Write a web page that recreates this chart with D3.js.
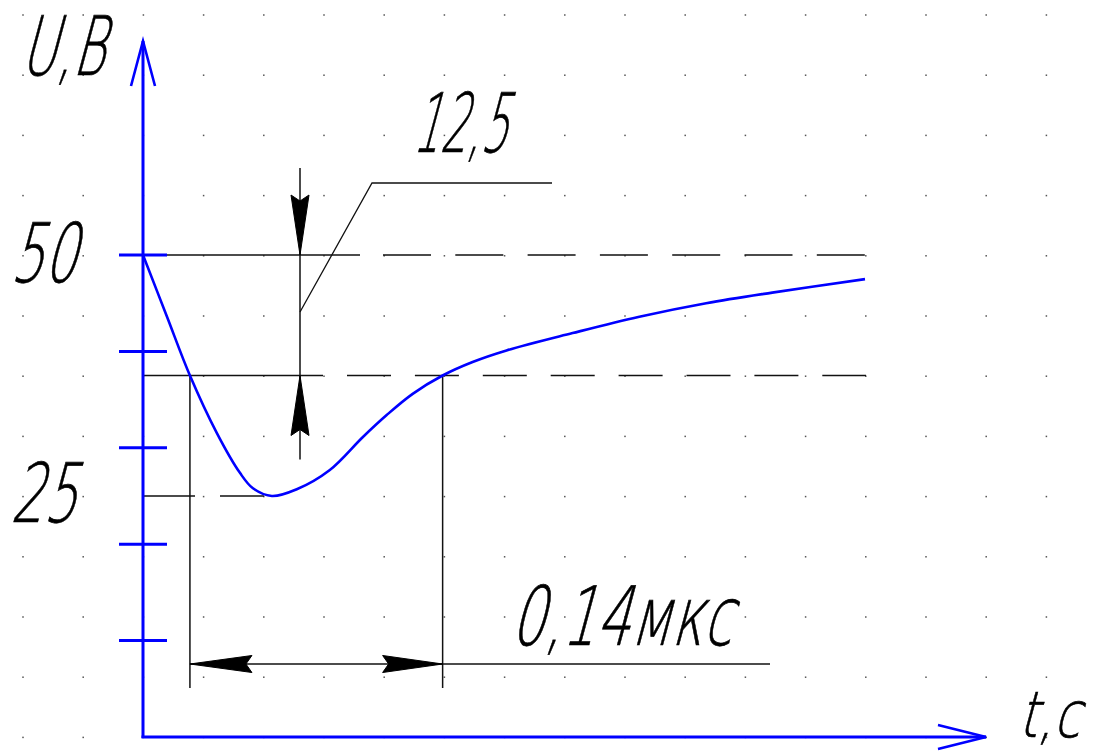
<!DOCTYPE html>
<html>
<head>
<meta charset="utf-8">
<script src="https://cdn.jsdelivr.net/npm/d3@7"></script>
<style>
  html, body { margin: 0; padding: 0; background: #fff; }
  svg { display: block; }
  .gost { font-family: "DejaVu Sans", sans-serif; font-weight: 200; fill: #000; stroke: #000; stroke-width: 0.7; }
</style>
</head>
<body>
<svg id="chart" width="1099" height="754"></svg>
<script>
// Transient response: voltage U (V) versus time t (microseconds)
const curveT = [0, 0.0133, 0.026, 0.041, 0.0537, 0.0609, 0.0714, 0.0852, 0.1035, 0.1217, 0.135, 0.1494, 0.166, 0.1826, 0.2014, 0.238, 0.275, 0.312, 0.3486, 0.4];
const curveU = [50, 43.6, 37.5, 31.5, 27.4, 25.8, 25.0, 25.7, 27.7, 31.1, 33.4, 35.6, 37.5, 38.9, 40.1, 41.9, 43.6, 45.0, 46.1, 47.5];

// Axis ticks and labelled values
const yTicks = [10, 20, 30, 40, 50];
const yLabels = [50, 25];

// Reference levels: steady value, threshold, minimum
const levelTop = 50;
const levelThreshold = 37.5;
const levelMin = 25;

// Time interval spent below the threshold
const tCross = [0.026, 0.166];

const labelDrop = "12,5";       // levelTop - levelThreshold
const labelInterval = "0,14мкс"; // tCross[1] - tCross[0]
const labelU = "U,B";
const labelT = "t,c";

const svg = d3.select("#chart");
const blue = "#0000ff";

const x = d3.scaleLinear().domain([0, 0.4]).range([143, 865]);
const y = d3.scaleLinear().domain([0, 50]).range([737, 255]);

// Dot grid of the drawing sheet
const gridStep = 60.2;
const dots = [];
for (let i = 0; 23 + i * gridStep < 1099; i++) {
  for (let j = 0; 15 + j * gridStep < 745; j++) {
    dots.push([23 + i * gridStep, 15 + j * gridStep]);
  }
}
svg.append("g").selectAll("rect").data(dots).join("rect")
  .attr("x", d => d[0] - 0.75).attr("y", d => d[1] - 0.75)
  .attr("width", 1.5).attr("height", 1.5).attr("fill", "#555");

const x0 = x(0), yBase = y(0);
const lines = svg.append("g").attr("stroke", "#111").attr("fill", "none");

// Steady level: extension line, then dashes
lines.append("line")
  .attr("x1", x0 - 24).attr("x2", x0 + 217)
  .attr("y1", y(levelTop)).attr("y2", y(levelTop)).attr("stroke-width", 1.4);
lines.append("line")
  .attr("x1", x0 + 240).attr("x2", x(0.4) + 2)
  .attr("y1", y(levelTop)).attr("y2", y(levelTop))
  .attr("stroke-width", 1.4).attr("stroke-dasharray", "48 24.3");

// Threshold level
lines.append("line")
  .attr("x1", x0).attr("x2", x0 + 180)
  .attr("y1", y(levelThreshold)).attr("y2", y(levelThreshold)).attr("stroke-width", 1.4);
lines.append("line")
  .attr("x1", x0 + 204).attr("x2", x(0.4) + 1)
  .attr("y1", y(levelThreshold)).attr("y2", y(levelThreshold))
  .attr("stroke-width", 1.4).attr("stroke-dasharray", "44 23.9");

// Minimum level extension
lines.append("line")
  .attr("x1", x0).attr("x2", x(0.0714) - 8)
  .attr("y1", y(levelMin)).attr("y2", y(levelMin))
  .attr("stroke-width", 1.4).attr("stroke-dasharray", "52 25");

// Extension lines at the threshold crossings
const dimY = 664;
tCross.forEach(t => {
  lines.append("line")
    .attr("x1", x(t)).attr("x2", x(t))
    .attr("y1", y(levelThreshold)).attr("y2", dimY + 24).attr("stroke-width", 1.5);
});

// Horizontal dimension line with arrows
lines.append("line")
  .attr("x1", x(tCross[0])).attr("x2", 770)
  .attr("y1", dimY).attr("y2", dimY).attr("stroke-width", 1.5);

function arrow(tipX, tipY, dx, dy, len, half, notch) {
  // dx,dy: unit direction from tip toward the tail
  const px = -dy, py = dx;
  const bx = tipX + dx * len, by = tipY + dy * len;
  const nx = tipX + dx * (len - notch), ny = tipY + dy * (len - notch);
  return `M${tipX},${tipY}L${bx + px * half},${by + py * half}L${nx},${ny}L${bx - px * half},${by - py * half}Z`;
}
const arrows = svg.append("g").attr("fill", "#000").attr("stroke", "#000").attr("stroke-width", 1);
arrows.append("path").attr("d", arrow(x(tCross[0]), dimY, 1, 0, 62, 8.5, 6));
arrows.append("path").attr("d", arrow(x(tCross[1]), dimY, -1, 0, 60, 8.5, 6));

// Vertical dimension for the voltage drop
const dimX = 300;
lines.append("line")
  .attr("x1", dimX).attr("x2", dimX)
  .attr("y1", y(levelTop) - 87).attr("y2", y(levelThreshold) + 84).attr("stroke-width", 1.5);
arrows.append("path").attr("d", arrow(dimX, y(levelTop), 0, -1, 60, 9, 6));
arrows.append("path").attr("d", arrow(dimX, y(levelThreshold), 0, 1, 60, 9, 6));

// Leader to the drop label
lines.append("path")
  .attr("d", `M${dimX},${y(levelTop) + 57}L372,183L552,183`)
  .attr("stroke-width", 1.3);

// Axes
const axes = svg.append("g").attr("stroke", blue).attr("fill", "none")
  .attr("stroke-width", 3).attr("stroke-linecap", "butt");
axes.append("line").attr("x1", x0).attr("x2", x0).attr("y1", yBase + 1).attr("y2", 41);
axes.append("path").attr("d", `M${x0 - 12},86L${x0},41L${x0 + 12},86`).attr("stroke-width", 2.6);
axes.append("line").attr("x1", x0 - 1.5).attr("x2", 986).attr("y1", yBase).attr("y2", yBase);
axes.append("path").attr("d", `M938,${yBase - 12}L986,${yBase}L938,${yBase + 12}`).attr("stroke-width", 2.6);

axes.selectAll("line.tick").data(yTicks).join("line").attr("class", "tick")
  .attr("x1", x0 - 24).attr("x2", x0 + 24)
  .attr("y1", d => y(d)).attr("y2", d => y(d));

// Response curve
const line = d3.line()
  .x((d, i) => x(curveT[i]))
  .y(d => y(d))
  .curve(d3.curveCatmullRom.alpha(0.5));
svg.append("path")
  .datum(curveU)
  .attr("d", line)
  .attr("fill", "none")
  .attr("stroke", blue)
  .attr("stroke-width", 2.6);

// Lettering in slanted drafting style: narrowed by a horizontal scale
function gostText(str, bx, by, size, len) {
  const g = svg.append("g");
  const t = g.append("text")
    .attr("class", "gost")
    .attr("font-size", size)
    .text(str);
  const natural = t.node().getComputedTextLength();
  g.attr("transform", `translate(${bx},${by}) skewX(-15) scale(${len / natural},1)`);
}
gostText(labelU, 20, 75, 82, 84);
gostText(labelDrop, 412, 152, 82, 95);
yLabels.forEach(v => {
  gostText(String(v), 10, y(v) + (v === 50 ? 27 : 26), 82, 66);
});
gostText(labelInterval, 510, 645, 82, 222);
gostText(labelT, 1018, 737, 64, 62);
</script>
</body>
</html>
